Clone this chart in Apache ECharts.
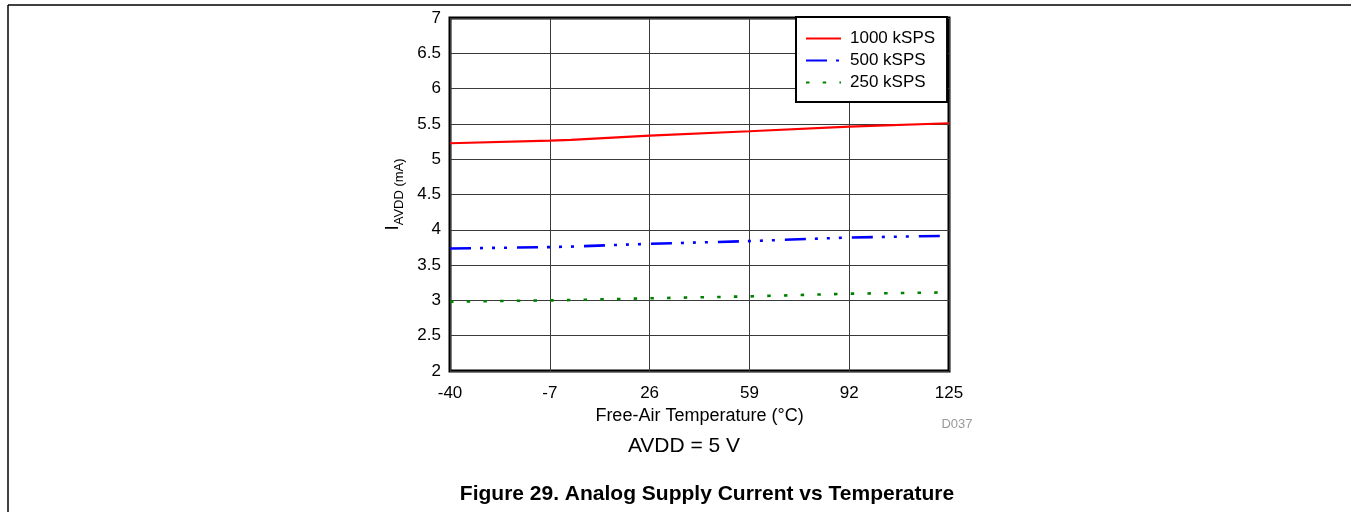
<!DOCTYPE html>
<html>
<head>
<meta charset="utf-8">
<script src="https://cdn.jsdelivr.net/npm/echarts@6/dist/echarts.min.js"></script>
<style>
html,body{margin:0;padding:0;background:#fff;}
#c{width:1351px;height:512px;}
</style>
</head>
<body>
<div id="c"></div>
<script>
// Data
const temps = [-40, -7, 0, 26, 59, 92, 125];
const i1000 = [5.226, 5.263, 5.275, 5.334, 5.396, 5.461, 5.509];
const i500  = [3.735, 3.755, 3.762, 3.802, 3.840, 3.891, 3.915];
const i250  = [2.982, 3.000, 3.005, 3.030, 3.057, 3.095, 3.113];
const seriesNames = ['1000 kSPS', '500 kSPS', '250 kSPS'];
const xTicks = [-40, -7, 26, 59, 92, 125];
const yMin = 2, yMax = 7, yStep = 0.5;

const FONT = '"Liberation Sans", Arial, sans-serif';
const pairs = arr => temps.map((t, i) => [t, arr[i]]);

const chart = echarts.init(document.getElementById('c'), null, {renderer: 'canvas'});
chart.setOption({
  animation: false,
  backgroundColor: '#fff',
  grid: {left: 450, right: 402, top: 18, bottom: 141, show: true,
         borderColor: '#000', borderWidth: 3, backgroundColor: 'transparent'},
  xAxis: {
    type: 'value', min: -40, max: 125,
    axisLine: {show: false},
    axisTick: {show: false, customValues: xTicks},
    axisLabel: {customValues: xTicks, color: '#000', fontSize: 17, fontFamily: FONT, margin: 14},
    splitLine: {show: true, lineStyle: {color: '#3a3a3a', width: 1}},
    name: 'Free-Air Temperature (°C)', nameLocation: 'middle', nameGap: 32,
    nameTextStyle: {color: '#000', fontSize: 18, fontFamily: FONT}
  },
  yAxis: {
    type: 'value', min: yMin, max: yMax, interval: yStep,
    axisLine: {show: false},
    axisTick: {show: false},
    axisLabel: {color: '#000', fontSize: 17, fontFamily: FONT, margin: 9},
    splitLine: {show: true, lineStyle: {color: '#3a3a3a', width: 1}},
    name: '{i|I}{s|AVDD (mA)}', nameLocation: 'middle', nameGap: 48, nameRotate: 90,
    nameTextStyle: {
      color: '#000', fontFamily: FONT,
      rich: {
        i: {fontSize: 19, color: '#000', fontFamily: FONT, lineHeight: 22, verticalAlign: 'bottom'},
        s: {fontSize: 13, color: '#000', fontFamily: FONT, lineHeight: 22, verticalAlign: 'bottom', padding: [0, 0, -4, 0]}
      }
    }
  },
  legend: {
    left: 796, top: 17, orient: 'vertical',
    backgroundColor: '#fff', borderColor: '#000', borderWidth: 2,
    padding: [13, 12, 11, 9],
    itemWidth: 35, itemHeight: 14, itemGap: 5,
    itemStyle: {opacity: 0},
    textStyle: {color: '#000', fontSize: 17, fontFamily: FONT, padding: [0, 0, 0, 4], lineHeight: 16},
    data: seriesNames
  },
  series: [
    {name: seriesNames[0], type: 'line', data: pairs(i1000), showSymbol: false, symbol: 'none',
     lineStyle: {color: '#ff0000', width: 2.2, type: 'solid'}, itemStyle: {color: '#ff0000'}},
    {name: seriesNames[1], type: 'line', data: pairs(i500), showSymbol: false, symbol: 'none',
     lineStyle: {color: '#0000ff', width: 2.6, type: [21, 9, 3, 9, 3, 9, 3, 10]}, itemStyle: {color: '#0000ff'}},
    {name: seriesNames[2], type: 'line', data: pairs(i250), showSymbol: false, symbol: 'none',
     lineStyle: {color: '#008000', width: 2.6, type: [3.5, 13.2]}, itemStyle: {color: '#008000'}}
  ],
  graphic: [
    {type: 'line', shape: {x1: 8, y1: 5, x2: 1351, y2: 5}, style: {stroke: '#000', lineWidth: 1.5}},
    {type: 'line', shape: {x1: 8, y1: 5, x2: 8, y2: 512}, style: {stroke: '#000', lineWidth: 1.5}},
    {type: 'text', style: {x: 957, y: 424, text: 'D037', fill: '#999', font: '13px ' + FONT,
      textAlign: 'center', textVerticalAlign: 'middle', align: 'center', verticalAlign: 'middle'}},
    {type: 'text', style: {x: 684, y: 446, text: 'AVDD = 5 V', fill: '#000', font: '21px ' + FONT,
      textAlign: 'center', textVerticalAlign: 'middle', align: 'center', verticalAlign: 'middle'}},
    {type: 'text', style: {x: 707, y: 494, text: 'Figure 29. Analog Supply Current vs Temperature', fill: '#000',
      font: 'bold 21px ' + FONT, textAlign: 'center', textVerticalAlign: 'middle', align: 'center', verticalAlign: 'middle'}}
  ]
});
</script>
</body>
</html>
